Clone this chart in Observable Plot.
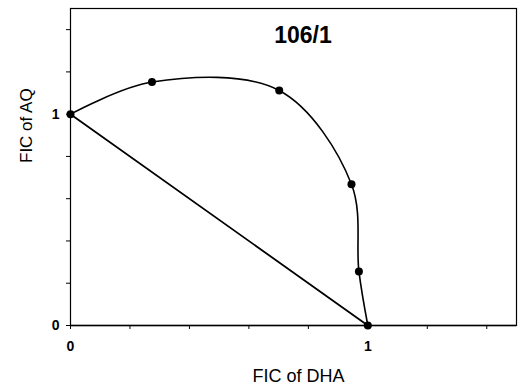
<!DOCTYPE html>
<html>
<head>
<meta charset="utf-8">
<script src="https://cdn.jsdelivr.net/npm/d3@7"></script>
<script src="https://cdn.jsdelivr.net/npm/@observablehq/plot@0.6"></script>
<style>
  html, body { margin: 0; padding: 0; background: #fff; }
  #chart svg { display: block; }
</style>
</head>
<body>
<div id="chart"></div>
<script>
// Isobologram data (FIC of DHA vs FIC of AQ)
const dhaFIC = [0, 0.274, 0.702, 0.945, 0.970, 1];
const aqFIC  = [1, 1.152, 1.112, 0.668, 0.256, 0];
// Additivity line
const additiveDHA = [0, 1];
const additiveAQ  = [1, 0];
// Tick values
const minorTicks = [0, 0.2, 0.4, 0.6, 0.8, 1, 1.2, 1.4];
const labelTicks = [0, 1];
// Texts
const panelLabel = [{x: 0.782, y: 1.373, text: "106/1"}];
const xTitle = "FIC of DHA";
const yTitle = "FIC of AQ";

const points = dhaFIC.map((d, i) => ({x: d, y: aqFIC[i]}));
const additive = additiveDHA.map((d, i) => ({x: d, y: additiveAQ[i]}));

const font = "'Liberation Sans', Arial, sans-serif";

const chart = Plot.plot({
  width: 529,
  height: 389,
  marginLeft: 70,
  marginRight: 13,
  marginTop: 8,
  marginBottom: 64,
  style: {fontFamily: font, color: "#000", background: "#fff"},
  x: {domain: [0, 1.5]},
  y: {domain: [0, 1.5]},
  marks: [
    Plot.frame({stroke: "#000", strokeWidth: 1.2}),
    Plot.axisX({ticks: minorTicks, tickSize: 4, text: null, label: null, stroke: "#000", strokeWidth: 1}),
    Plot.axisY({ticks: minorTicks, tickSize: 4, text: null, label: null, stroke: "#000", strokeWidth: 1}),
    Plot.axisX({ticks: labelTicks, tickSize: 0, tickPadding: 16, tickFormat: d3.format("d"),
      fontSize: 14, fontWeight: "bold", fill: "#000", label: null}),
    Plot.axisY({ticks: labelTicks, tickSize: 0, tickPadding: 11, tickFormat: d3.format("d"),
      fontSize: 14, fontWeight: "bold", fill: "#000", label: null}),
    Plot.text([xTitle], {text: d => d, frameAnchor: "bottom", dx: 5, dy: 56,
      fontSize: 18, fill: "#000"}),
    Plot.text([yTitle], {text: d => d, frameAnchor: "left", rotate: -90, dx: -44, dy: -4,
      fontSize: 17, fill: "#000"}),
    Plot.ruleY([0], {stroke: "#000", strokeWidth: 1.5}),
    Plot.line(additive, {x: "x", y: "y", stroke: "#000", strokeWidth: 1.8}),
    Plot.line(points, {x: "x", y: "y", curve: "catmull-rom", stroke: "#000", strokeWidth: 1.6}),
    Plot.dot(points, {x: "x", y: "y", r: 4, fill: "#000", stroke: "none"}),
    Plot.text(panelLabel, {x: "x", y: "y", text: "text", fontSize: 23, fontWeight: "bold", fill: "#000"})
  ]
});

document.getElementById("chart").appendChild(chart);
</script>
</body>
</html>
